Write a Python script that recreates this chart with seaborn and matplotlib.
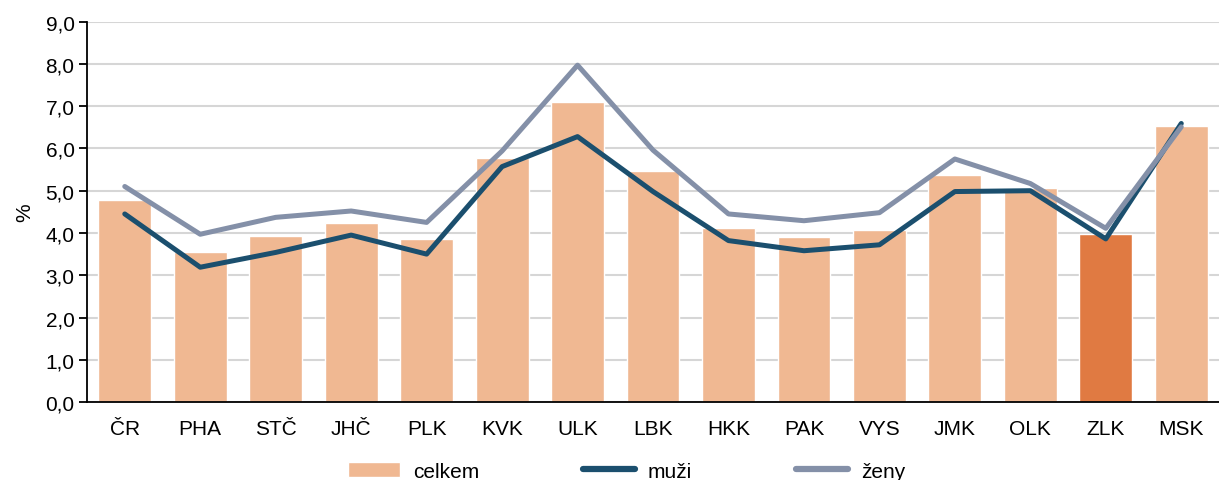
import matplotlib
matplotlib.use("Agg")
import matplotlib.pyplot as plt
from matplotlib.patches import Patch
from matplotlib.lines import Line2D
from matplotlib.ticker import FuncFormatter, MultipleLocator
import seaborn as sns

# data
regions = ['ČR', 'PHA', 'STČ', 'JHČ', 'PLK', 'KVK', 'ULK', 'LBK', 'HKK',
           'PAK', 'VYS', 'JMK', 'OLK', 'ZLK', 'MSK']
celkem = [4.78, 3.56, 3.93, 4.23, 3.86, 5.78, 7.09, 5.46, 4.12, 3.90, 4.08,
          5.36, 5.07, 3.97, 6.54]
muzi = [4.45, 3.19, 3.54, 3.95, 3.50, 5.57, 6.28, 4.98, 3.82, 3.58, 3.72,
        4.98, 5.00, 3.86, 6.59]
zeny = [5.10, 3.97, 4.37, 4.52, 4.25, 5.94, 7.97, 5.96, 4.45, 4.29, 4.48,
        5.75, 5.17, 4.11, 6.51]
highlight = 'ZLK'

bar_col = '#F0B892'
hl_col = '#E07A42'
muzi_col = '#1B4F6E'
zeny_col = '#8490A8'

sns.set_style('white')
plt.rcParams['font.family'] = ['Liberation Sans', 'DejaVu Sans']
plt.rcParams['text.color'] = 'black'
plt.rcParams['xtick.color'] = 'black'
plt.rcParams['ytick.color'] = 'black'
plt.rcParams['axes.labelcolor'] = 'black'

fig = plt.figure(figsize=(12.19, 4.81), dpi=100)
ax = fig.add_axes([0.0714, 0.162, 0.9286, 0.791])

palette = {r: (hl_col if r == highlight else bar_col) for r in regions}
sns.barplot(x=regions, y=celkem, hue=regions, palette=palette, legend=False,
            width=0.7, saturation=1, ax=ax, zorder=2)
sns.lineplot(x=regions, y=muzi, sort=False, color=muzi_col, lw=3.6, ax=ax,
             zorder=3, solid_capstyle='round')
sns.lineplot(x=regions, y=zeny, sort=False, color=zeny_col, lw=3.6, ax=ax,
             zorder=4, solid_capstyle='round')

ax.set_xlim(-0.5, len(regions) - 0.5)
ax.set_ylim(0, 9)
ax.yaxis.set_major_locator(MultipleLocator(1))
ax.yaxis.set_major_formatter(FuncFormatter(lambda v, p: f'{v:.1f}'.replace('.', ',')))
ax.grid(axis='y', color='#D6D6D6', lw=1.5, zorder=0)
ax.set_axisbelow(True)

for s in ['top', 'right']:
    ax.spines[s].set_visible(False)
for s in ['left', 'bottom']:
    ax.spines[s].set_color('black')
    ax.spines[s].set_linewidth(1.3)

ax.tick_params(axis='y', which='major', left=True, length=6, width=1.3,
               color='black', labelsize=15, pad=3)
ax.tick_params(axis='x', bottom=False, labelsize=15, pad=9)
ax.set_ylabel('%', fontsize=15, labelpad=8)
ax.set_xlabel('')

handles = [Patch(facecolor=bar_col, label='celkem'),
           Line2D([0], [0], color=muzi_col, lw=4.5, solid_capstyle='round', label='muži'),
           Line2D([0], [0], color=zeny_col, lw=4.5, solid_capstyle='round', label='ženy')]
fig.legend(handles=handles, loc='center', bbox_to_anchor=(0.514, 0.018), ncol=3,
           frameon=False, fontsize=15, handlelength=2.5, handleheight=0.75,
           columnspacing=5.0, handletextpad=0.6)

fig.savefig('out.png', dpi=100)
